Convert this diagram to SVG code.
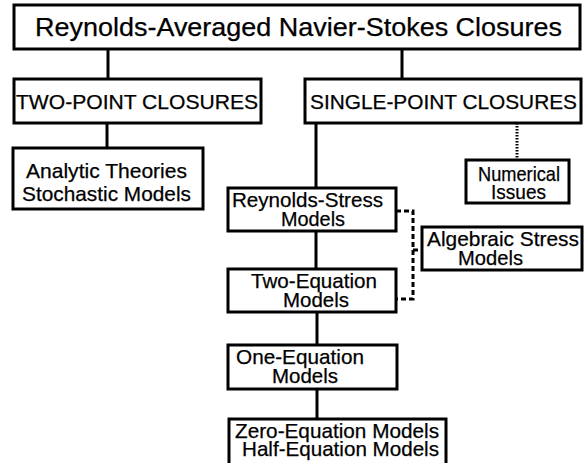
<svg xmlns="http://www.w3.org/2000/svg" width="588" height="463" viewBox="0 0 588 463">
<style>
.box{fill:#fff;stroke:#000;stroke-width:3}
.t{font-family:"Liberation Sans",Arial,sans-serif;font-size:21px;fill:#000;stroke:#000;stroke-width:0.25}
.title{font-size:25px}
.line{stroke:#000;stroke-width:3;fill:none}
.dash{stroke:#000;stroke-width:3;fill:none;stroke-dasharray:5 3}
.dot{stroke:#000;stroke-width:3;fill:none;stroke-dasharray:1.5 1.5}
</style>
<rect width="588" height="463" fill="#fff"/>
<g id="connectors">
<path class="line" d="M108,49V79"/>
<path class="line" d="M402,49V79"/>
<path class="line" d="M107,123V148"/>
<path class="line" d="M316,123V188"/>
<path class="dot" d="M517,123V160"/>
<path class="line" d="M316,231V269"/>
<path class="line" d="M317,312V345"/>
<path class="line" d="M317,389V419"/>
<path class="dash" d="M396,211H413V299H396"/>
<path class="dash" d="M413,250H422"/>
</g>
<g id="rans">
<rect class="box" x="14" y="5" width="566" height="44"/>
<text class="t title" x="35" y="36" textLength="527" lengthAdjust="spacingAndGlyphs">Reynolds-Averaged Navier-Stokes Closures</text>
</g>
<g id="twopoint">
<rect class="box" x="14" y="79" width="247" height="44"/>
<text class="t" x="16" y="109" textLength="242" lengthAdjust="spacingAndGlyphs">TWO-POINT CLOSURES</text>
</g>
<g id="singlepoint">
<rect class="box" x="305" y="79" width="276" height="44"/>
<text class="t" x="310" y="109" textLength="267" lengthAdjust="spacingAndGlyphs">SINGLE-POINT CLOSURES</text>
</g>
<g id="analytic">
<rect class="box" x="13" y="148" width="190" height="61"/>
<text class="t" x="26" y="178" textLength="161" lengthAdjust="spacingAndGlyphs">Analytic Theories</text>
<text class="t" x="22" y="201" textLength="169" lengthAdjust="spacingAndGlyphs">Stochastic Models</text>
</g>
<g id="numerical">
<rect class="box" x="466" y="160" width="103" height="43"/>
<text class="t" x="478" y="181" textLength="82" lengthAdjust="spacingAndGlyphs">Numerical</text>
<text class="t" x="491" y="199" textLength="55" lengthAdjust="spacingAndGlyphs">Issues</text>
</g>
<g id="reynoldsstress">
<rect class="box" x="228" y="188" width="168" height="43"/>
<text class="t" x="232" y="207" textLength="151" lengthAdjust="spacingAndGlyphs">Reynolds-Stress</text>
<text class="t" x="281" y="226" textLength="64" lengthAdjust="spacingAndGlyphs">Models</text>
</g>
<g id="algebraic">
<rect class="box" x="422" y="227" width="160" height="43"/>
<text class="t" x="427" y="246" textLength="152" lengthAdjust="spacingAndGlyphs">Algebraic Stress</text>
<text class="t" x="458" y="265" textLength="65" lengthAdjust="spacingAndGlyphs">Models</text>
</g>
<g id="twoequation">
<rect class="box" x="228" y="269" width="168" height="43"/>
<text class="t" x="251" y="288" textLength="126" lengthAdjust="spacingAndGlyphs">Two-Equation</text>
<text class="t" x="283" y="307" textLength="66" lengthAdjust="spacingAndGlyphs">Models</text>
</g>
<g id="oneequation">
<rect class="box" x="228" y="345" width="169" height="44"/>
<text class="t" x="236" y="364" textLength="128" lengthAdjust="spacingAndGlyphs">One-Equation</text>
<text class="t" x="272" y="383" textLength="66" lengthAdjust="spacingAndGlyphs">Models</text>
</g>
<g id="zeroequation">
<rect class="box" x="229" y="419" width="217" height="48"/>
<text class="t" x="235" y="438" textLength="204" lengthAdjust="spacingAndGlyphs">Zero-Equation Models</text>
<text class="t" x="242" y="456" textLength="197" lengthAdjust="spacingAndGlyphs">Half-Equation Models</text>
</g>
</svg>
